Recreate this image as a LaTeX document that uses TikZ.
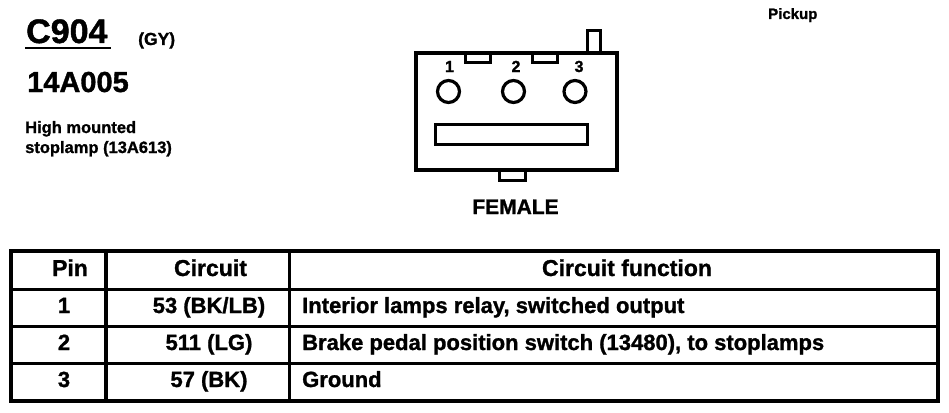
\documentclass[tikz,border=0pt]{standalone}
\usepackage{fontspec}
\setmainfont{Liberation Sans}[BoldFeatures={FakeBold=1.2}]
\begin{document}
\begin{tikzpicture}[x=1pt,y=-1pt,
  txt/.style={inner sep=0pt,font=\bfseries\fontsize{#1}{#1}\selectfont},
  txt/.default=22,
  lw4/.style={line width=4pt},
  lw3/.style={line width=3pt},
]
\useasboundingbox[fill=white] (0,0) rectangle (949,412);

% --- title block ---
\node[txt=34,anchor=base west] (title) at (26,43) {C904};
\draw[line width=2.7pt] (25,48) -- (111,48);
\node[txt=17.5,anchor=base west] (gy) at (138,45) {(GY)};
\node[txt=29,anchor=base west] (part) at (27,92) {14A005};
\node[txt=16.5,anchor=base west] (desc1) at (25,133) {High mounted};
\node[txt=16.5,anchor=base west] (desc2) at (25,153) {stoplamp (13A613)};
\node[txt=15,anchor=base west] (pickup) at (768,19) {Pickup};

% --- connector face ---
\draw[lw4] (416,53) rectangle (617,170);
\draw[lw3] (465.5,53) -- (465.5,62.5) -- (490.5,62.5) -- (490.5,53);
\draw[lw3] (532.5,53) -- (532.5,62.5) -- (557.5,62.5) -- (557.5,53);
\draw[lw3] (587.5,53) -- (587.5,30.5) -- (600.5,30.5) -- (600.5,53);
\draw[lw3] (499.5,170) -- (499.5,180.5) -- (525.5,180.5) -- (525.5,170);
\draw[lw3] (435.5,124.5) rectangle (587.5,144.5);
\node[txt=16,anchor=base] (n1) at (449.5,72) {1};
\node[txt=16,anchor=base] (n2) at (516,72) {2};
\node[txt=16,anchor=base] (n3) at (579,72) {3};
\draw[line width=3.2pt] (448.5,91.5) circle (11);
\draw[line width=3.2pt] (513.5,91.5) circle (11);
\draw[line width=3.2pt] (575,91.5) circle (11);
\node[txt=21,anchor=base] (female) at (515.5,214) {FEMALE};

% --- table ---
\draw[lw3] (11,289) -- (937.5,289);
\draw[lw3] (11,326) -- (937.5,326);
\draw[lw3] (11,363) -- (937.5,363);
\draw[line width=3.5pt] (106,251) -- (106,401);
\draw[line width=3.5pt] (289.5,251) -- (289.5,401);
\draw[lw4] (11,251) rectangle (937.5,401);

\node[txt=23,anchor=base] (hpin) at (70,276) {Pin};
\node[txt=23,anchor=base] (hcirc) at (210.5,276) {Circuit};
\node[txt=23,anchor=base] (hfunc) at (627,276) {Circuit function};

\node[txt,anchor=base] (p1) at (64,313) {1};
\node[txt,anchor=base] (c1) at (209,313) {53 (BK/LB)};
\node[txt,anchor=base west] (f1) at (302,313) {Interior lamps relay, switched output};

\node[txt,anchor=base] (p2) at (64,350) {2};
\node[txt,anchor=base] (c2) at (209,350) {511 (LG)};
\node[txt,anchor=base west] (f2) at (302,350) {Brake pedal position switch (13480), to stoplamps};

\node[txt,anchor=base] (p3) at (64,387) {3};
\node[txt,anchor=base] (c3) at (209,387) {57 (BK)};
\node[txt,anchor=base west] (f3) at (302,387) {Ground};
\end{tikzpicture}
\end{document}
